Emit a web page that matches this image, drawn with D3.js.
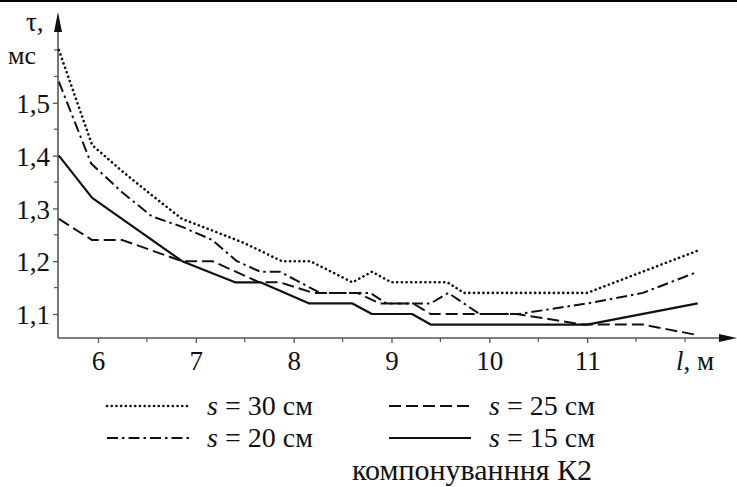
<!DOCTYPE html>
<html>
<head>
<meta charset="utf-8">
<script src="https://cdn.jsdelivr.net/npm/d3@7.9.0/dist/d3.min.js"></script>
<style>
  body { margin: 0; background: #fff; }
  svg { display: block; font-family: "Liberation Serif", "Times New Roman", serif; }
  .tick text { font-size: 27px; fill: #111; font-family: "Liberation Serif", "Times New Roman", serif; }
  .tick line { stroke: #555; stroke-width: 1.3; }
</style>
</head>
<body>
<svg id="chart" width="737" height="487"></svg>
<script>
// tau (ms) vs l (m), layout K2
const l30 = [5.6, 5.94, 6.25, 6.55, 6.86, 7.17, 7.5, 7.88, 8.17, 8.6, 8.8, 9.0, 9.57, 9.74, 11.0, 12.13];
const t30 = [1.60, 1.42, 1.37, 1.325, 1.28, 1.258, 1.234, 1.20, 1.20, 1.16, 1.18, 1.16, 1.16, 1.14, 1.14, 1.22];

const l25 = [5.6, 5.94, 6.25, 6.86, 7.17, 7.65, 7.86, 8.2, 8.65, 8.88, 9.22, 9.4, 10.28, 10.96, 11.57, 12.13];
const t25 = [1.28, 1.24, 1.24, 1.20, 1.20, 1.16, 1.16, 1.14, 1.14, 1.12, 1.12, 1.10, 1.10, 1.08, 1.08, 1.06];

const l20 = [5.6, 5.93, 6.25, 6.55, 6.86, 7.17, 7.42, 7.66, 7.86, 8.27, 8.6, 8.78, 8.95, 9.4, 9.58, 9.9, 10.3, 11.0, 11.57, 12.13];
const t20 = [1.54, 1.385, 1.33, 1.285, 1.265, 1.24, 1.20, 1.18, 1.18, 1.14, 1.14, 1.14, 1.12, 1.12, 1.14, 1.10, 1.10, 1.12, 1.14, 1.18];

const l15 = [5.6, 5.94, 6.86, 7.4, 7.66, 8.16, 8.6, 8.8, 9.21, 9.4, 11.0, 12.13];
const t15 = [1.40, 1.32, 1.20, 1.16, 1.16, 1.12, 1.12, 1.10, 1.10, 1.08, 1.08, 1.12];

const xTicks = [6, 7, 8, 9, 10, 11];
const yTicks = [1.1, 1.2, 1.3, 1.4, 1.5];
const legendLabels = ['30', '25', '20', '15'];

const series = [
  { l: l30, t: t30, dash: '0.1 4.6', width: 2.6, cap: 'round' },
  { l: l25, t: t25, dash: '12 5', width: 2, cap: 'butt' },
  { l: l20, t: t20, dash: '11 4 2.5 4', width: 2, cap: 'butt' },
  { l: l15, t: t15, dash: null, width: 2.2, cap: 'butt' }
];

const serif = '"Liberation Serif", "Times New Roman", serif';
const svg = d3.select('#chart');
const x = d3.scaleLinear().domain([6, 12]).range([98, 685]);
const y = d3.scaleLinear().domain([1.1, 1.6]).range([314, 50]);
const x0 = 58, y0 = 338;
const axisColor = '#555';

// top rule
svg.append('rect').attr('x', 0).attr('y', 0).attr('width', 737).attr('height', 2).attr('fill', '#000');

// minor ticks
const xMinor = d3.range(6.5, 12, 1).concat([12]);
svg.selectAll('.xminor').data(xMinor).join('line')
  .attr('x1', d => x(d)).attr('x2', d => x(d))
  .attr('y1', y0).attr('y2', y0 + 4)
  .attr('stroke', axisColor).attr('stroke-width', 1.2);
const yMinor = [1.15, 1.25, 1.35, 1.45, 1.55, 1.6];
svg.selectAll('.yminor').data(yMinor).join('line')
  .attr('x1', x0 - 4).attr('x2', x0)
  .attr('y1', d => y(d)).attr('y2', d => y(d))
  .attr('stroke', axisColor).attr('stroke-width', 1.2);

const comma = d => String(d).replace('.', ',');

const gx = svg.append('g').attr('transform', `translate(0,${y0})`)
  .call(d3.axisBottom(x).tickValues(xTicks).tickSize(5).tickPadding(8).tickFormat(d => d))
  .attr('font-family', serif);
gx.select('.domain').remove();

const gy = svg.append('g').attr('transform', `translate(${x0},0)`)
  .call(d3.axisLeft(y).tickValues(yTicks).tickSize(5).tickPadding(3).tickFormat(comma))
  .attr('font-family', serif);
gy.select('.domain').remove();
gy.selectAll('.tick text').attr('dy', '0.36em');

// axis lines with arrows
svg.append('line').attr('x1', x0).attr('x2', x0).attr('y1', y0).attr('y2', 24)
  .attr('stroke', axisColor).attr('stroke-width', 1.6);
svg.append('path').attr('d', `M${x0},12 L${x0 - 4},32 L${x0 + 4},32 Z`).attr('fill', '#111');
svg.append('line').attr('x1', x0).attr('x2', 726).attr('y1', y0).attr('y2', y0)
  .attr('stroke', axisColor).attr('stroke-width', 1.6);
svg.append('path').attr('d', `M737,${y0} L719,${y0 - 4} L719,${y0 + 4} Z`).attr('fill', '#111');

// axis titles
svg.append('text').attr('x', 26).attr('y', 31).attr('font-size', 27).attr('fill', '#111').text('τ,');
svg.append('text').attr('x', 8).attr('y', 64).attr('font-size', 26).attr('fill', '#111').text('мс');
const xl = svg.append('text').attr('x', 676).attr('y', 370).attr('font-size', 27).attr('fill', '#111');
xl.append('tspan').attr('font-style', 'italic').text('l');
xl.append('tspan').text(', м');

// curves
const line = d3.line().x(d => x(d[0])).y(d => y(d[1]));
series.forEach(s => {
  svg.append('path')
    .attr('d', line(d3.zip(s.l, s.t)))
    .attr('fill', 'none')
    .attr('stroke', '#111')
    .attr('stroke-width', s.width)
    .attr('stroke-linecap', s.cap)
    .attr('stroke-linejoin', 'round')
    .attr('stroke-dasharray', s.dash);
});

// legend
const legPos = [[107, 406], [389, 406], [107, 438], [389, 438]];
series.forEach((s, i) => {
  const [lx, ly] = legPos[i];
  svg.append('line')
    .attr('x1', lx).attr('x2', lx + 82).attr('y1', ly).attr('y2', ly)
    .attr('stroke', '#111').attr('stroke-width', s.width)
    .attr('stroke-linecap', s.cap)
    .attr('stroke-dasharray', s.dash);
  const t = svg.append('text').attr('x', lx + 100).attr('y', ly + 9)
    .attr('font-size', 28).attr('fill', '#111');
  t.append('tspan').attr('font-style', 'italic').text('s');
  t.append('tspan').text(` = ${legendLabels[i]} см`);
});

svg.append('text').attr('x', 472).attr('y', 480).attr('text-anchor', 'middle')
  .attr('font-size', 30).attr('fill', '#111').text('компонуванння К2');
</script>
</body>
</html>
